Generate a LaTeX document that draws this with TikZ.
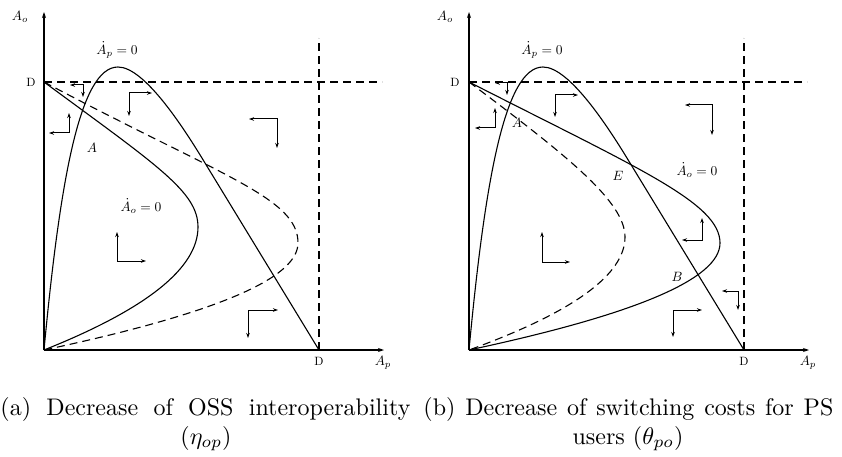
\documentclass[tikz,border=0pt]{standalone}
\usetikzlibrary{arrows.meta}
\tikzset{
  curve/.style={line width=1.1pt},
  dcurve/.style={line width=1.1pt, dash pattern=on 8pt off 5pt},
  axis/.style={line width=1.1pt, -{Stealth[length=6pt,width=4pt]}},
  phase/.style={line width=1pt, {Stealth[length=5pt,width=3.5pt]}-{Stealth[length=5pt,width=3.5pt]}},
  lab/.style={inner sep=0pt, scale=1.35},
  dlab/.style={inner sep=0pt, scale=1.2},
  captext/.style={inner sep=0pt, scale=2.4},
}
\begin{document}
\begin{tikzpicture}[x=1pt,y=-1pt]
\useasboundingbox (0,0) rectangle (842,457);
% ---------------- left panel ----------------
\coordinate (O1) at (44,350);
\coordinate (Ytop1) at (44,12);
\coordinate (Xend1) at (384,350);
\coordinate (Dy1) at (44,82);
\coordinate (Dx1) at (319,350);
\draw[axis] (O1) -- (Ytop1);
\draw[axis] (O1) -- (Xend1);
\draw[dcurve] (Dy1) -- (382,82);
\draw[dcurve] (Dx1) -- (319,38);
\node[lab] (Ao1) at (20,17) {$A_o$};
\node[lab] (Ap1) at (383,363) {$A_p$};
\node[dlab] (Dl1) at (31,82) {D};
\node[dlab] (Dm1) at (319,361) {D};
\node[lab] (Apz1) at (117,50) {$\dot{A}_p=0$};
\node[lab] (Aoz1) at (141,206) {$\dot{A}_o=0$};
\node[lab] (A1) at (92,148) {$A$};
% hump  (Ap dot = 0)
\draw[curve] (O1) .. controls (60,180) and (80,67) .. (118,67)
  .. controls (145,67) and (185,130) .. (205,163) -- (Dx1);
% Ao dot = 0 (solid, original)
\draw[curve] (Dy1) .. controls (158,166) and (198,192) .. (198,227)
  .. controls (198,268) and (146.7,309) .. (O1);
% Ao dot = 0 (dashed, new)
\draw[dcurve] (Dy1) .. controls (224,177.4) and (298,198) .. (298,243)
  .. controls (298,279) and (213,314) .. (O1);
% phase arrows
\draw[phase] (70,85) -- (83,85) -- (83,97);
\draw[phase] (69,113) -- (69,133) -- (49,133);
\draw[phase] (152,93) -- (129,93) -- (129,116);
\draw[phase] (249,119) -- (277,119) -- (277,148);
\draw[phase] (117,232) -- (117,261) -- (146,261);
\draw[phase] (278,310) -- (248,310) -- (248,338);
% ---------------- right panel ----------------
\coordinate (O2) at (469,350);
\coordinate (Ytop2) at (469,12);
\coordinate (Xend2) at (809,350);
\coordinate (Dy2) at (469,82);
\coordinate (Dx2) at (744,350);
\draw[axis] (O2) -- (Ytop2);
\draw[axis] (O2) -- (Xend2);
\draw[dcurve] (Dy2) -- (807,82);
\draw[dcurve] (Dx2) -- (744,38);
\node[lab] (Ao2) at (445,17) {$A_o$};
\node[lab] (Ap2) at (808,363) {$A_p$};
\node[dlab] (Dl2) at (455,82) {D};
\node[dlab] (Dm2) at (744,361) {D};
\node[lab] (Apz2) at (542,50) {$\dot{A}_p=0$};
\node[lab] (Aoz2) at (697,170) {$\dot{A}_o=0$};
\node[lab] (A2) at (517,123) {$A$};
\node[lab] (E2) at (618,176) {$E$};
\node[lab] (B2) at (677,277) {$B$};
% hump
\draw[curve] (O2) .. controls (485,180) and (505,67) .. (543,67)
  .. controls (570,67) and (610,130) .. (630,163) -- (Dx2);
% Ao dot = 0 (solid, new)
\draw[curve] (Dy2) .. controls (639,168.7) and (720,203) .. (720,243)
  .. controls (720,278.7) and (636.3,314.3) .. (O2);
% Ao dot = 0 (dashed, original)
\draw[dcurve] (Dy2) .. controls (569,157) and (625,202) .. (625,237)
  .. controls (625,274.7) and (573,312.3) .. (O2);
% phase arrows
\draw[phase] (495,83) -- (507,83) -- (507,95);
\draw[phase] (495,108) -- (495,128) -- (475,128);
\draw[phase] (578,95) -- (555,95) -- (555,117);
\draw[phase] (685,105) -- (712,105) -- (712,135);
\draw[phase] (682,240) -- (702,240) -- (702,218);
\draw[phase] (542,232) -- (542,262) -- (570,262);
\draw[phase] (722,291) -- (738,291) -- (738,310);
\draw[phase] (702,310) -- (673,310) -- (673,337);
% ---------------- captions ----------------
\node[captext, anchor=base west] (capa1) at (0,415)
  {\makebox[170.8pt][s]{(a) Decrease of OSS interoperability}};
\node[captext, anchor=base] (capa2) at (206,444) {($\eta_{op}$)};
\node[captext, anchor=base west] (capb1) at (423,415)
  {\makebox[170.8pt][s]{(b) Decrease of switching costs for PS}};
\node[captext, anchor=base] (capb2) at (628,444) {users ($\theta_{po}$)};
\end{tikzpicture}
\end{document}
